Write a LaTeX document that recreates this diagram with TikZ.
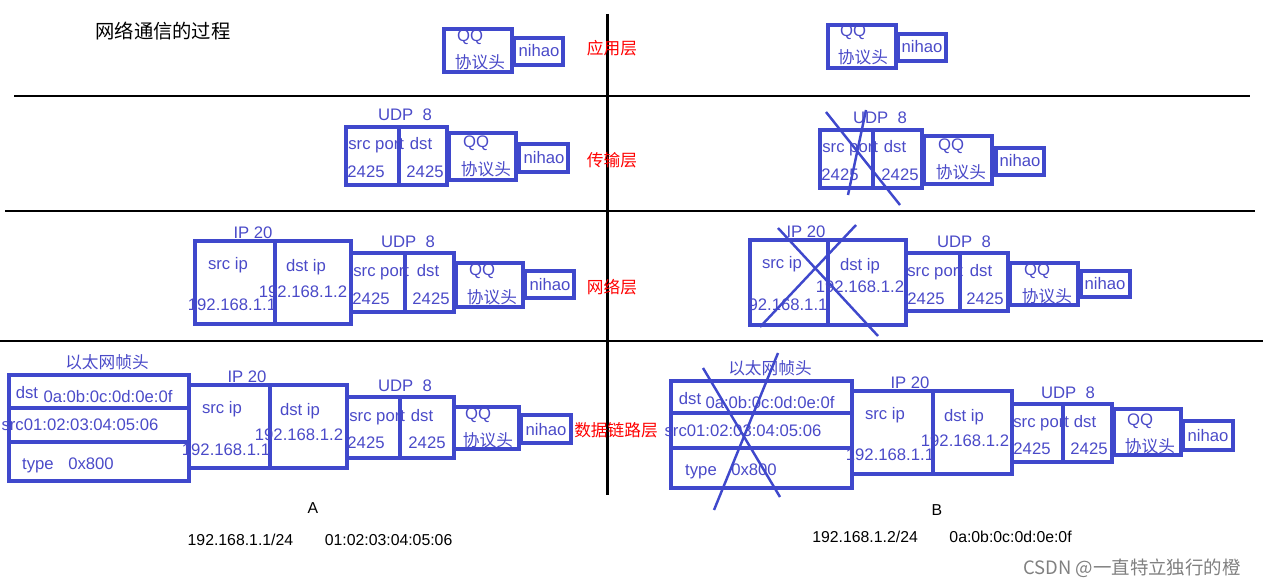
\documentclass[tikz,border=0pt]{standalone}
\usepackage{fontspec}
\setmainfont{Liberation Sans}
\newfontfamily\cjk{Noto Sans CJK SC}
\usetikzlibrary{positioning}
\definecolor{paintblue}{HTML}{3F48CC}
\definecolor{labblue}{HTML}{4A4AC8}
\tikzset{
  box/.style = {draw=paintblue, line width=1.8pt},
  cross/.style = {draw=paintblue, line width=1.4pt},
  divider/.style = {draw=black, line width=1.7pt},
  lab/.style = {text=labblue, inner sep=0pt, font=\fontsize{9.5}{10}\selectfont},
  layer/.style = {text=red, inner sep=0pt, font=\cjk\fontsize{9.5}{10}\selectfont},
  plain/.style = {text=black, inner sep=0pt, font=\fontsize{9}{10}\selectfont}
}
\newcommand{\cjklab}[1]{{\cjk #1}}
\begin{document}
\begin{tikzpicture}[x=0.02cm, y=-0.02cm]
	\useasboundingbox (0,0) rectangle (1263,587);
	%% layer dividers
	\draw[divider] (14,96) -- (1250,96);
	\draw[divider] (5,211) -- (1255,211);
	\draw[divider] (0,341) -- (1263,341);
	\draw[divider] (607,14) -- (607,495);
	\node[plain, font=\cjk\fontsize{11}{12}\selectfont] (title) at (163,31) {网络通信的过程};
	\node[layer] (app) at (612,48) {应用层};
	\node[layer] (trans) at (612,160) {传输层};
	\node[layer] (net) at (612,287) {网络层};
	\node[layer] (link) at (616,430) {数据链路层};

	%% application layer
	\draw[box] (444,29) rectangle (512,72);
	\node[lab] (qqA1) at (470,37) {QQ};
	\node[lab] (hdA1) at (480,62) {\cjklab{协议头}};
	\draw[box] (514,38) rectangle (563,65);
	\node[lab] (niA1) at (539,51) {nihao};
	\draw[box] (828,25) rectangle (896,68);
	\node[lab] (qqB1) at (853,32) {QQ};
	\node[lab] (hdB1) at (863,57) {\cjklab{协议头}};
	\draw[box] (898,34) rectangle (946,61);
	\node[lab] (niB1) at (922,47) {nihao};

	%% transport layer
	\node[lab] (udpA2) at (405,115) {UDP\ \ 8};
	\draw[box] (346,127) rectangle (399,185);
	\draw[box] (399,127) rectangle (447,185);
	\node[lab, anchor=west] (spA2) at (348,146) {src port};
	\node[lab] (dpA2) at (421,144) {dst};
	\node[lab] (s2A2) at (366,172) {2425};
	\node[lab] (d2A2) at (425,172) {2425};
	\draw[box] (449,133) rectangle (516,180);
	\node[lab] (qqA2) at (476,143) {QQ};
	\node[lab] (hdA2) at (486,169) {\cjklab{协议头}};
	\draw[box] (519,144) rectangle (568,172);
	\node[lab] (niA2) at (544,158) {nihao};
	\node[lab] (udpB2) at (880,118) {UDP\ \ 8};
	\draw[box] (820,130) rectangle (873,188);
	\draw[box] (873,130) rectangle (922,188);
	\node[lab, anchor=west] (spB2) at (822,149) {src port};
	\node[lab] (dpB2) at (895,147) {dst};
	\node[lab] (s2B2) at (840,175) {2425};
	\node[lab] (d2B2) at (900,175) {2425};
	\draw[box] (924,136) rectangle (992,184);
	\node[lab] (qqB2) at (951,146) {QQ};
	\node[lab] (hdB2) at (961,172) {\cjklab{协议头}};
	\draw[box] (996,148) rectangle (1044,175);
	\node[lab] (niB2) at (1020,161) {nihao};
	\draw[cross] (826,112) -- (900,205);
	\draw[cross] (866,110) -- (848,195);

	%% network layer
	\node[lab] (ipA3) at (253,233) {IP 20};
	\draw[box] (195,241) rectangle (275,324);
	\draw[box] (275,241) rectangle (351,324);
	\node[lab] (siA3) at (228,265) {src ip};
	\node[lab] (saA3) at (232,305) {192.168.1.1};
	\node[lab] (diA3) at (306,267) {dst ip};
	\node[lab] (daA3) at (303,292) {192.168.1.2};
	\node[lab] (udpA3) at (408,242) {UDP\ \ 8};
	\draw[box] (351,253) rectangle (405,312);
	\draw[box] (405,253) rectangle (454,312);
	\node[lab, anchor=west] (spA3) at (353,273) {src port};
	\node[lab] (dpA3) at (428,271) {dst};
	\node[lab] (s2A3) at (371,299) {2425};
	\node[lab] (d2A3) at (431,299) {2425};
	\draw[box] (456,263) rectangle (523,307);
	\node[lab] (qqA3) at (482,271) {QQ};
	\node[lab] (hdA3) at (492,297) {\cjklab{协议头}};
	\draw[box] (525,271) rectangle (574,298);
	\node[lab] (niA3) at (550,285) {nihao};
	\node[lab] (ipB3) at (806,232) {IP 20};
	\draw[box] (750,240) rectangle (828,325);
	\draw[box] (828,240) rectangle (906,325);
	\node[lab] (siB3) at (782,264) {src ip};
	\node[lab] (saB3) at (788,305) {92.168.1.1};
	\node[lab] (diB3) at (860,266) {dst ip};
	\node[lab] (daB3) at (860,287) {192.168.1.2};
	\node[lab] (udpB3) at (964,242) {UDP\ \ 8};
	\draw[box] (906,253) rectangle (960,311);
	\draw[box] (960,253) rectangle (1008,311);
	\node[lab, anchor=west] (spB3) at (907,273) {src port};
	\node[lab] (dpB3) at (981,271) {dst};
	\node[lab] (s2B3) at (926,299) {2425};
	\node[lab] (d2B3) at (985,299) {2425};
	\draw[box] (1010,263) rectangle (1078,305);
	\node[lab] (qqB3) at (1037,271) {QQ};
	\node[lab] (hdB3) at (1047,296) {\cjklab{协议头}};
	\draw[box] (1081,271) rectangle (1130,297);
	\node[lab] (niB3) at (1105,284) {nihao};
	\draw[cross] (778,228) -- (878,336);
	\draw[cross] (856,225) -- (760,327);

	%% data link layer
	\node[lab] (ethA4) at (107,362) {\cjklab{以太网帧头}};
	\draw[box] (9,375) rectangle (189,481);
	\draw[box] (9,408) -- (189,408);
	\draw[box] (9,442) -- (189,442);
	\node[lab] (dA4) at (27,393) {dst};
	\node[lab] (dmA4) at (108,397) {0a:0b:0c:0d:0e:0f};
	\node[lab] (smA4) at (80,425) {src01:02:03:04:05:06};
	\node[lab] (tA4) at (38,466) {type};
	\node[lab] (tvA4) at (91,464) {0x800};
	\node[lab] (ipA4) at (247,377) {IP 20};
	\draw[box] (189,385) rectangle (270,468);
	\draw[box] (270,385) rectangle (347,468);
	\node[lab] (siA4) at (222,409) {src ip};
	\node[lab] (saA4) at (226,450) {192.168.1.1};
	\node[lab] (diA4) at (300,411) {dst ip};
	\node[lab] (daA4) at (299,435) {192.168.1.2};
	\node[lab] (udpA4) at (405,386) {UDP\ \ 8};
	\draw[box] (347,397) rectangle (400,458);
	\draw[box] (400,397) rectangle (454,458);
	\node[lab, anchor=west] (spA4) at (349,418) {src port};
	\node[lab] (dpA4) at (422,416) {dst};
	\node[lab] (s2A4) at (366,443) {2425};
	\node[lab] (d2A4) at (427,443) {2425};
	\draw[box] (454,407) rectangle (519,449);
	\node[lab] (qqA4) at (478,415) {QQ};
	\node[lab] (hdA4) at (488,440) {\cjklab{协议头}};
	\draw[box] (521,415) rectangle (571,443);
	\node[lab] (niA4) at (546,430) {nihao};
	\node[lab] (ethB4) at (770,368) {\cjklab{以太网帧头}};
	\draw[box] (671,381) rectangle (852,488);
	\draw[box] (671,413) -- (852,413);
	\draw[box] (671,448) -- (852,448);
	\node[lab] (dB4) at (690,399) {dst};
	\node[lab] (dmB4) at (770,403) {0a:0b:0c:0d:0e:0f};
	\node[lab] (smB4) at (743,431) {src01:02:03:04:05:06};
	\node[lab] (tB4) at (701,472) {type};
	\node[lab] (tvB4) at (754,470) {0x800};
	\node[lab] (ipB4) at (910,383) {IP 20};
	\draw[box] (852,391) rectangle (933,474);
	\draw[box] (933,391) rectangle (1012,474);
	\node[lab] (siB4) at (885,415) {src ip};
	\node[lab] (saB4) at (890,455) {192.168.1.1};
	\node[lab] (diB4) at (964,417) {dst ip};
	\node[lab] (daB4) at (965,441) {192.168.1.2};
	\node[lab] (udpB4) at (1068,393) {UDP\ \ 8};
	\draw[box] (1012,404) rectangle (1063,462);
	\draw[box] (1063,404) rectangle (1112,462);
	\node[lab, anchor=west] (spB4) at (1013,424) {src port};
	\node[lab] (dpB4) at (1085,422) {dst};
	\node[lab] (s2B4) at (1032,449) {2425};
	\node[lab] (d2B4) at (1089,449) {2425};
	\draw[box] (1114,409) rectangle (1181,455);
	\node[lab] (qqB4) at (1140,421) {QQ};
	\node[lab] (hdB4) at (1150,446) {\cjklab{协议头}};
	\draw[box] (1183,421) rectangle (1233,450);
	\node[lab] (niB4) at (1208,436) {nihao};
	\draw[cross] (703,368) -- (780,497);
	\draw[cross] (778,353) -- (714,510);

	%% hosts
	\node[plain] (hostA) at (313,508) {A};
	\node[plain] (hostB) at (937,510) {B};
	\node[plain] (addrA) at (320,540) {192.168.1.1/24\qquad 01:02:03:04:05:06};
	\node[plain] (addrB) at (942,537) {192.168.1.2/24\qquad 0a:0b:0c:0d:0e:0f};
	\node[plain, text=gray, font=\cjk\fontsize{10.5}{12}\selectfont] (mark) at (1132,568) {CSDN @一直特立独行的橙};
\end{tikzpicture}
\end{document}
